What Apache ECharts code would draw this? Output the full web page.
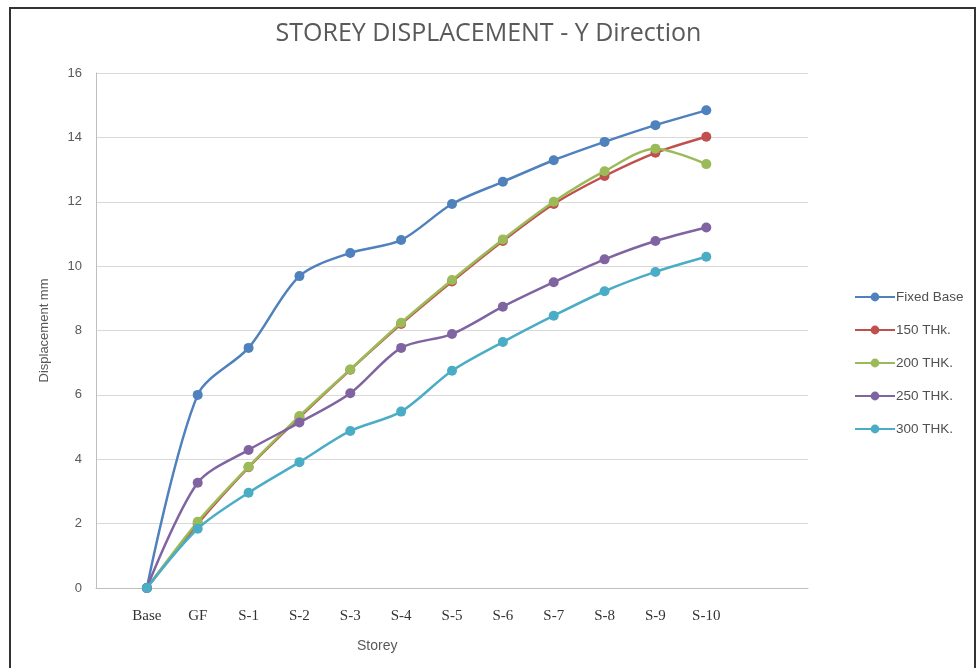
<!DOCTYPE html>
<html>
<head>
<meta charset="utf-8">
<script src="https://cdn.jsdelivr.net/npm/echarts@6/dist/echarts.min.js"></script>
<style>
  html, body { margin: 0; padding: 0; background: #fff; }
  #chart { width: 977px; height: 668px; }
</style>
</head>
<body>
<div id="chart"></div>
<script>
// Storey labels (blank slots pad the axis on both sides)
const storeys = ['', 'Base', 'GF', 'S-1', 'S-2', 'S-3', 'S-4', 'S-5', 'S-6', 'S-7', 'S-8', 'S-9', 'S-10', '', ''];

// Displacement in mm per storey
const fixedBase = [null, 0, 6.0, 7.46, 9.69, 10.41, 10.81, 11.93, 12.62, 13.29, 13.86, 14.38, 14.84, null, null];
const thk150    = [null, 0, 2.0, 3.75, 5.30, 6.78, 8.20, 9.52, 10.78, 11.93, 12.80, 13.52, 14.02, null, null];
const thk200    = [null, 0, 2.06, 3.77, 5.34, 6.79, 8.24, 9.57, 10.83, 12.00, 12.95, 13.65, 13.17, null, null];
const thk250    = [null, 0, 3.27, 4.29, 5.14, 6.05, 7.46, 7.89, 8.74, 9.50, 10.21, 10.78, 11.20, null, null];
const thk300    = [null, 0, 1.84, 2.96, 3.91, 4.88, 5.48, 6.75, 7.64, 8.46, 9.22, 9.82, 10.29, null, null];

const seriesNames = ['Fixed Base', '150 THk.', '200 THK.', '250 THK.', '300 THK.'];
const seriesData = [fixedBase, thk150, thk200, thk250, thk300];
const colors = ['#4F81BD', '#C0504D', '#9BBB59', '#8064A2', '#4BACC6'];

const chart = echarts.init(document.getElementById('chart'));

chart.setOption({
  animation: false,
  color: colors,
  title: {
    text: 'STOREY DISPLACEMENT - Y Direction',
    left: 'center',
    top: 16,
    textStyle: {
      fontFamily: '"Liberation Sans Narrow", "Open Sans", sans-serif',
      fontSize: 25,
      fontWeight: 'normal',
      color: '#595959'
    }
  },
  legend: {
    orient: 'vertical',
    left: 849,
    top: 285,
    itemWidth: 40,
    itemHeight: 11,
    itemGap: 19,
    textStyle: {
      fontFamily: '"Liberation Sans", sans-serif',
      fontSize: 13.5,
      color: '#505050',
      padding: [0, 0, 0, -4]
    },
    data: seriesNames
  },
  grid: {
    left: 96,
    right: 169,
    top: 73,
    bottom: 80
  },
  xAxis: {
    type: 'category',
    data: storeys,
    boundaryGap: false,
    axisLine: { lineStyle: { color: '#BFBFBF', width: 1 } },
    axisTick: { show: false },
    axisLabel: {
      interval: 0,
      margin: 21,
      fontFamily: '"Liberation Serif", "Times New Roman", serif',
      fontSize: 15,
      color: '#333333'
    },
    splitLine: { show: false }
  },
  yAxis: {
    type: 'value',
    min: 0,
    max: 16,
    interval: 2,
    name: 'Displacement mm',
    nameLocation: 'middle',
    nameGap: 45,
    nameTextStyle: {
      fontFamily: '"Liberation Sans", sans-serif',
      fontSize: 13,
      color: '#595959'
    },
    axisLine: { show: true, lineStyle: { color: '#BFBFBF', width: 1 } },
    axisTick: { show: false },
    axisLabel: {
      margin: 14,
      fontFamily: '"Liberation Sans", sans-serif',
      fontSize: 13,
      color: '#595959'
    },
    splitLine: { lineStyle: { color: '#D9D9D9', width: 1 } }
  },
  graphic: [
    {
      type: 'rect',
      shape: { x: 10, y: 8, width: 965, height: 680 },
      style: { fill: 'none', stroke: '#333333', lineWidth: 2 },
      silent: true
    },
    {
      type: 'text',
      left: 357,
      top: 639,
      style: {
        text: 'Storey',
        fontFamily: '"Liberation Sans", sans-serif',
        fontSize: 14,
        fill: '#595959'
      }
    }
  ],
  series: seriesNames.map((name, i) => ({
    name: name,
    type: 'line',
    data: seriesData[i],
    smooth: 0.3,
    symbol: 'circle',
    symbolSize: 10,
    lineStyle: { width: 2.5 },
    itemStyle: { color: colors[i] },
    z: 2 + i
  }))
});
</script>
</body>
</html>
